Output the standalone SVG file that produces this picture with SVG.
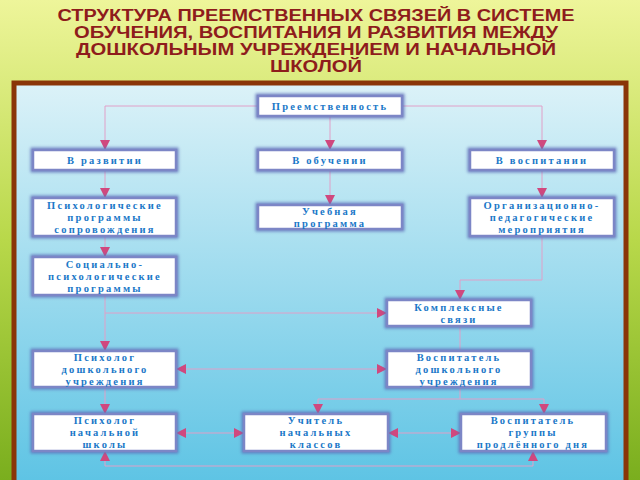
<svg xmlns="http://www.w3.org/2000/svg" width="640" height="480" viewBox="0 0 640 480">
<defs>
<linearGradient id="bg" x1="0" y1="0" x2="0" y2="1"><stop offset="0" stop-color="#eef59a"/><stop offset="0.5" stop-color="#b8d84a"/><stop offset="1" stop-color="#7aae1e"/></linearGradient>
<linearGradient id="inner" x1="0" y1="0" x2="0" y2="1"><stop offset="0" stop-color="#dcf2f8"/><stop offset="1" stop-color="#5cc3e4"/></linearGradient>
<filter id="glow" x="-10%" y="-30%" width="120%" height="160%"><feGaussianBlur stdDeviation="1.5"/></filter>
<marker id="ar" viewBox="0 0 10 10" refX="10" refY="5" markerWidth="10" markerHeight="10" markerUnits="userSpaceOnUse" orient="auto-start-reverse"><path d="M0,0 L10,5 L0,10 Z" fill="#d0487e"/></marker>
<style>
.box{fill:#fff;stroke:#7c86c6;stroke-width:2.5}
.sh{fill:none;stroke:#5e6cb8;stroke-width:5;filter:url(#glow);opacity:0.8}
.t{font-family:"Liberation Serif",serif;font-weight:bold;font-size:10.5px;fill:#1a78c8;text-anchor:middle;letter-spacing:2.2px}
.c{fill:none;stroke:#e0a0c8;stroke-width:1}
.ttl{font-family:"Liberation Sans",Arial,sans-serif;font-weight:bold;font-size:16px;fill:#8e1c1c;text-anchor:middle}
</style>
</defs>
<rect width="640" height="480" fill="url(#bg)"/>
<g class="ttl">
<text x="316" y="21" textLength="517" lengthAdjust="spacingAndGlyphs">СТРУКТУРА ПРЕЕМСТВЕННЫХ СВЯЗЕЙ В СИСТЕМЕ</text>
<text x="316" y="38" textLength="484" lengthAdjust="spacingAndGlyphs">ОБУЧЕНИЯ, ВОСПИТАНИЯ И РАЗВИТИЯ МЕЖДУ</text>
<text x="316" y="55" textLength="480" lengthAdjust="spacingAndGlyphs">ДОШКОЛЬНЫМ УЧРЕЖДЕНИЕМ И НАЧАЛЬНОЙ</text>
<text x="316" y="72" textLength="92" lengthAdjust="spacingAndGlyphs">ШКОЛОЙ</text>
</g>
<rect x="14" y="83" width="612" height="405" fill="url(#inner)" stroke="#8a3508" stroke-width="5"/>
<g id="connectors" class="c">
<path d="M258,106 H105 V150" marker-end="url(#ar)"/>
<path d="M402,106 H542 V150" marker-end="url(#ar)"/>
<path d="M330,116 V150" marker-end="url(#ar)"/>
<path d="M105,170 V198" marker-end="url(#ar)"/>
<path d="M330,170 V205" marker-end="url(#ar)"/>
<path d="M542,170 V198" marker-end="url(#ar)"/>
<path d="M105,236 V257" marker-end="url(#ar)"/>
<path d="M542,236 V280 H460 V300" marker-end="url(#ar)"/>
<path d="M105,295 V351" marker-end="url(#ar)"/>
<path d="M105,313 H387" marker-end="url(#ar)"/>
<path d="M176,369 H387" marker-start="url(#ar)" marker-end="url(#ar)"/>
<path d="M460,326 V351"/>
<path d="M460,387 V399"/>
<path d="M318,399 H544"/>
<path d="M318,399 V414" marker-end="url(#ar)"/>
<path d="M544,399 V414" marker-end="url(#ar)"/>
<path d="M105,387 V414" marker-end="url(#ar)"/>
<path d="M176,433 H244" marker-start="url(#ar)" marker-end="url(#ar)"/>
<path d="M388,433 H461" marker-start="url(#ar)" marker-end="url(#ar)"/>
<path d="M105,451 V466 H533 V451" marker-start="url(#ar)" marker-end="url(#ar)"/>
</g>
<g id="n1"><rect class="sh" x="258" y="96" width="144" height="20"/><rect class="box" x="258" y="96" width="144" height="20"/><text class="t" x="330" y="110">Преемственность</text></g>
<g id="n2"><rect class="sh" x="33" y="150" width="143" height="20"/><rect class="box" x="33" y="150" width="143" height="20"/><text class="t" x="105" y="164">В развитии</text></g>
<g id="n3"><rect class="sh" x="258" y="150" width="144" height="20"/><rect class="box" x="258" y="150" width="144" height="20"/><text class="t" x="330" y="164">В обучении</text></g>
<g id="n4"><rect class="sh" x="470" y="150" width="144" height="20"/><rect class="box" x="470" y="150" width="144" height="20"/><text class="t" x="542" y="164">В воспитании</text></g>
<g id="n5"><rect class="sh" x="33" y="198" width="143" height="38"/><rect class="box" x="33" y="198" width="143" height="38"/><text class="t" x="105" y="209">Психологические</text><text class="t" x="105" y="221">программы</text><text class="t" x="105" y="233">сопровождения</text></g>
<g id="n6"><rect class="sh" x="258" y="205" width="144" height="24"/><rect class="box" x="258" y="205" width="144" height="24"/><text class="t" x="330" y="215">Учебная</text><text class="t" x="330" y="227">программа</text></g>
<g id="n7"><rect class="sh" x="470" y="198" width="144" height="38"/><rect class="box" x="470" y="198" width="144" height="38"/><text class="t" x="542" y="209">Организационно-</text><text class="t" x="542" y="221">педагогические</text><text class="t" x="542" y="233">мероприятия</text></g>
<g id="n8"><rect class="sh" x="33" y="257" width="143" height="38"/><rect class="box" x="33" y="257" width="143" height="38"/><text class="t" x="105" y="268">Социально-</text><text class="t" x="105" y="280">психологические</text><text class="t" x="105" y="292">программы</text></g>
<g id="n9"><rect class="sh" x="387" y="300" width="144" height="26"/><rect class="box" x="387" y="300" width="144" height="26"/><text class="t" x="459" y="311">Комплексные</text><text class="t" x="459" y="323">связи</text></g>
<g id="n10"><rect class="sh" x="33" y="351" width="143" height="36"/><rect class="box" x="33" y="351" width="143" height="36"/><text class="t" x="105" y="361">Психолог</text><text class="t" x="105" y="373">дошкольного</text><text class="t" x="105" y="385">учреждения</text></g>
<g id="n11"><rect class="sh" x="387" y="351" width="144" height="36"/><rect class="box" x="387" y="351" width="144" height="36"/><text class="t" x="459" y="361">Воспитатель</text><text class="t" x="459" y="373">дошкольного</text><text class="t" x="459" y="385">учреждения</text></g>
<g id="n12"><rect class="sh" x="33" y="414" width="143" height="37"/><rect class="box" x="33" y="414" width="143" height="37"/><text class="t" x="105" y="424">Психолог</text><text class="t" x="105" y="436">начальной</text><text class="t" x="105" y="448">школы</text></g>
<g id="n13"><rect class="sh" x="244" y="414" width="144" height="37"/><rect class="box" x="244" y="414" width="144" height="37"/><text class="t" x="316" y="424">Учитель</text><text class="t" x="316" y="436">начальных</text><text class="t" x="316" y="448">классов</text></g>
<g id="n14"><rect class="sh" x="461" y="414" width="145" height="37"/><rect class="box" x="461" y="414" width="145" height="37"/><text class="t" x="533" y="424">Воспитатель</text><text class="t" x="533" y="436">группы</text><text class="t" x="533" y="448">продлённого дня</text></g>
</svg>
